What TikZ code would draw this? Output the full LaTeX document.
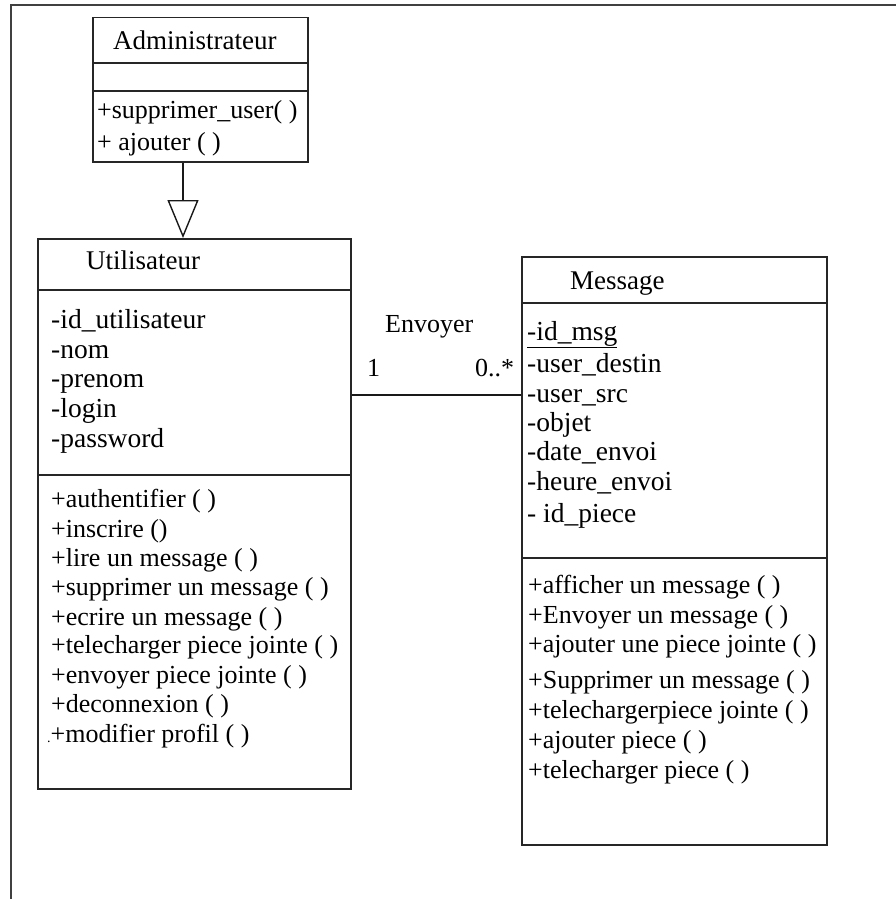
\documentclass[tikz,border=0pt]{standalone}
\usepackage{fontspec}
\setmainfont{Liberation Serif}
\usetikzlibrary{arrows.meta}
\begin{document}
\begin{tikzpicture}[x=1pt,y=-1pt,
  umlbox/.style={draw=black!85, line width=1.5pt, inner sep=0pt, anchor=north west},
  sep/.style={draw=black!85, line width=1.5pt},
  ttl/.style={anchor=base west, inner sep=0pt, font=\fontsize{27}{30}\selectfont},
  attr/.style={anchor=base west, inner sep=0pt, font=\fontsize{27.5}{30}\selectfont},
  meth/.style={anchor=base west, inner sep=0pt, font=\fontsize{26}{30}\selectfont},
  lbl/.style={anchor=base west, inner sep=0pt, font=\fontsize{26}{30}\selectfont},
  frame/.style={draw=black!75, line width=1.8pt},
  link/.style={draw=black!90, line width=1.4pt},
  gen/.style={link, line join=miter, -{Triangle[open,length=38pt,width=31pt,line width=1.4pt]}}
]
\useasboundingbox (0,0) rectangle (896,899);

% outer frame (top and left edges only)
\draw[frame] (11,899) -- (11,5) -- (896,5);

% ---------- Administrateur ----------
\node[umlbox, minimum width=215pt, minimum height=144pt] (admin) at (92,17) {};
\draw[sep] (admin.west |- 0,63) -- (admin.east |- 0,63);
\draw[sep] (admin.west |- 0,91) -- (admin.east |- 0,91);
\node[ttl] (admintitle) at (113,49) {Administrateur};
\node[meth] (am1) at (97,118) {+supprimer\_user( )};
\node[meth] (am2) at (97,150) {+ ajouter ( )};

% ---------- Utilisateur ----------
\node[umlbox, minimum width=313pt, minimum height=550pt] (util) at (37,238) {};
\draw[sep] (util.west |- 0,290) -- (util.east |- 0,290);
\draw[sep] (util.west |- 0,475) -- (util.east |- 0,475);
\node[ttl] (utiltitle) at (86,269) {Utilisateur};
\foreach \yy/\txt [count=\i] in {
  328/{-id\_utilisateur},
  358/{-nom},
  387/{-prenom},
  417/{-login},
  447/{-password}}
  \node[attr] (ua\i) at (51,\yy) {\txt};
\foreach \yy/\txt [count=\i] in {
  507/{+authentifier ( )},
  537/{+inscrire ()},
  566/{+lire un message ( )},
  595/{+supprimer un message ( )},
  625/{+ecrire un message ( )},
  653/{+telecharger piece jointe ( )},
  683/{+envoyer piece jointe ( )},
  712/{+deconnexion ( )},
  742/{\kern-4pt{\fontsize{14}{14}\selectfont.}+modifier profil ( )}}
  \node[meth] (um\i) at (51,\yy) {\txt};

% ---------- Message ----------
\node[umlbox, minimum width=305pt, minimum height=588pt] (msg) at (521,256) {};
\draw[sep] (msg.west |- 0,303) -- (msg.east |- 0,303);
\draw[sep] (msg.west |- 0,558) -- (msg.east |- 0,558);
\node[ttl] (msgtitle) at (570,289) {Message};
\foreach \yy/\txt [count=\i] in {
  340/{\underline{-id\_msg}},
  372/{-user\_destin},
  402/{-user\_src},
  431/{-objet},
  460/{-date\_envoi},
  490/{-heure\_envoi},
  522/{- id\_piece}}
  \node[attr] (ma\i) at (527,\yy) {\txt};
\foreach \yy/\txt [count=\i] in {
  593/{+afficher un message ( )},
  623/{+Envoyer un message ( )},
  652/{+ajouter une piece jointe ( )},
  688/{+Supprimer un message ( )},
  718/{+telechargerpiece jointe ( )},
  748/{+ajouter piece ( )},
  778/{+telecharger piece ( )}}
  \node[meth] (mm\i) at (528,\yy) {\txt};

% ---------- generalisation Administrateur -> Utilisateur ----------
\coordinate (genx) at (183,0);
\draw[gen] (admin.south -| genx) -- (util.north -| genx);

% ---------- association Envoyer ----------
\coordinate (assoc) at (0,395);
\draw[link] (util.east |- assoc) -- (msg.west |- assoc);
\node[lbl] (assocname) at (385,332) {Envoyer};
\node[lbl] (multsrc) at (367,376) {1};
\node[lbl] (multdst) at (475,376) {0..*};
\end{tikzpicture}
\end{document}
